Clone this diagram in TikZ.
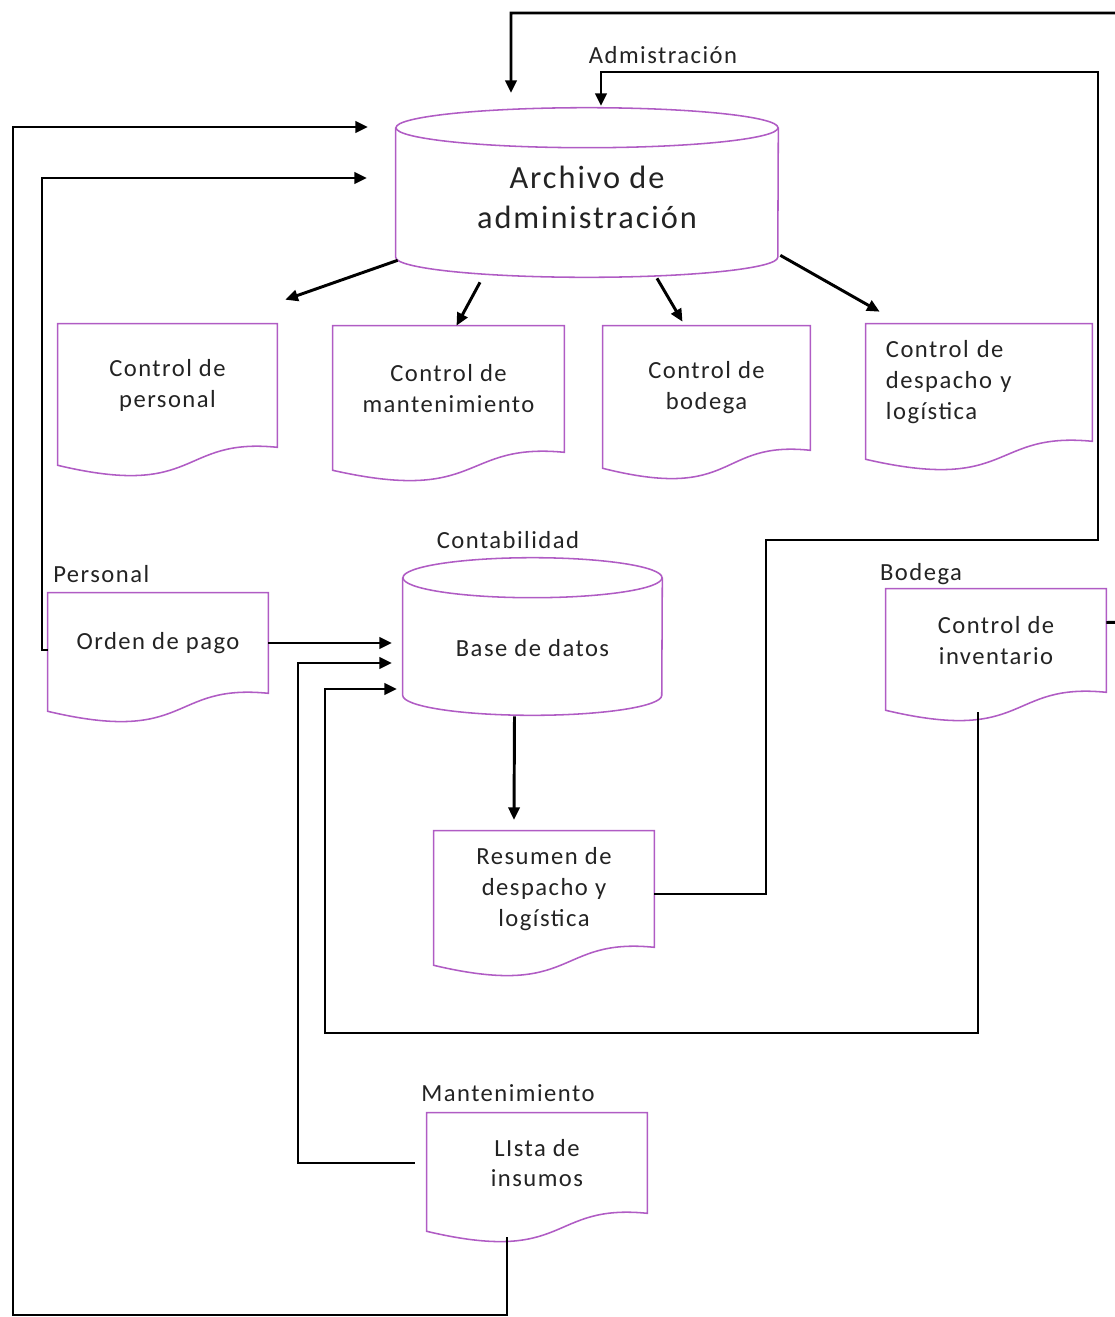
\documentclass[tikz,border=0pt]{standalone}
\usepackage{fontspec}
\setmainfont{Carlito}[LetterSpace=6]
\usepackage{xcolor}
\usetikzlibrary{arrows.meta, calc}
\definecolor{docline}{RGB}{176,92,196}
\definecolor{txtcol}{RGB}{35,35,35}
\newcommand{\txt}{\fontsize{17.5}{22}\selectfont}
\newcommand{\bigtxt}{\fontsize{23}{28.5}\selectfont}
\tikzset{
  doc/.style={rectangle, inner sep=2pt, align=center, font=\txt, text=txtcol},
  cyl/.style={rectangle, inner sep=2pt, align=center, font=\txt, text=txtcol},
  outline/.style={draw=docline, line width=1.1pt},
  arr/.style={-{Triangle[length=9pt, width=8pt]}, line width=2.1pt},
  lbl/.style={font=\txt, text=txtcol, inner sep=0pt},
}
% hoja con borde ondulado abajo
\newcommand{\docshape}[1]{%
  \draw[outline] (#1.north west) -- (#1.north east) -- (#1.south east)
    .. controls ($(#1.south west)!0.55!(#1.south east)+(0,-10)$) and ($(#1.south west)!0.65!(#1.south east)+(0,52)$) .. ($(#1.south west)+(0,18)$) -- cycle;}
% base de datos (cilindro)
\newcommand{\cylshape}[2]{%
  \draw[outline] ($(#1.north)+(0,20)$) ellipse[x radius=#2, y radius=0.5cm];
  \draw[outline] ($(#1.north west)+(0,20)$) -- ($(#1.south west)+(0,-20)$)
    arc[start angle=180, end angle=360, x radius=#2, y radius=0.5cm] -- ($(#1.north east)+(0,20)$);}

\begin{document}
\begin{tikzpicture}[x=0.025cm, y=-0.025cm]
\useasboundingbox (0,0) rectangle (1114,1317);

% ---------- Administracion ----------
\node[cyl, font=\bigtxt, minimum width=9.55cm, minimum height=4.225cm] (archivo) at (587,192.5) {\raisebox{-0.12cm}[\height][\depth]{Archivo de}\\\raisebox{-0.12cm}[\height][\depth]{administración}};
\cylshape{archivo}{4.775cm}
\node[lbl] (admin) at (663,55) {Admistración};

\node[doc, minimum width=5.475cm, minimum height=3.075cm] (ctrlpersonal) at (167.5,385.5) {Control de\\personal};
\node[doc, minimum width=5.775cm, minimum height=3.15cm] (ctrlmant) at (448.5,389) {Control de\\mantenimiento};
\node[doc, minimum width=5.175cm, minimum height=3.1cm] (ctrlbodega) at (706.5,388) {Control de\\bodega};
\node[doc, align=left, inner xsep=0.5cm, text width=4.65cm, minimum height=2.925cm] (ctrldespacho) at (979,382.5) {Control de\\despacho y\\logística};
\docshape{ctrlpersonal}
\docshape{ctrlmant}
\docshape{ctrlbodega}
\docshape{ctrldespacho}

% ---------- Contabilidad ----------
\node[cyl, minimum width=6.475cm, minimum height=3.925cm] (basedatos) at (532.5,636.5) {\raisebox{-0.28cm}[\height][\depth]{Base de datos}};
\cylshape{basedatos}{3.2375cm}
\node[lbl] (conta) at (508,540) {Contabilidad};

\node[doc, minimum width=5.5cm, minimum height=2.9cm] (resumen) at (544,889) {Resumen de\\despacho y\\logística};
\docshape{resumen}

% ---------- Personal / Bodega / Mantenimiento ----------
\node[doc, minimum width=5.5cm, minimum height=2.5cm] (ordenpago) at (158,643) {Orden de pago};
\docshape{ordenpago}
\node[lbl, anchor=west] (pers) at (53,574) {Personal};

\node[doc, minimum width=5.5cm, minimum height=2.575cm] (ctrlinv) at (996,640.5) {Control de\\inventario};
\docshape{ctrlinv}
\node[lbl] (bod) at (921,574) {Bodega};

\node[doc, minimum width=5.5cm, minimum height=2.5cm] (insumos) at (537,1163) {LIsta de\\insumos};
\docshape{insumos}
\node[lbl] (mant) at (508,1093) {Mantenimiento};

% ---------- puntos de llegada ----------
\coordinate (inA) at (511,93);
\coordinate (inB) at (601,106);
\coordinate (inC) at (368,127);
\coordinate (inD) at (367,178);
\coordinate (inE) at (392,643);
\coordinate (inF) at (392,663);
\coordinate (inG) at (397,689);
\coordinate (inH) at (514,820);

% ---------- flujos hacia el archivo ----------
\draw[arr] ($(ctrlinv.east)+(0,-18)$) -- (1130,622) -- (1130,13) -| (inA);
\draw[arr] ($(resumen.east)+(0,5)$) -- (766,894) -- (766,540) -- (1098,540) -- (1098,72) -| (inB);
\draw[arr] ($(insumos.south)+(-30,24)$) -- (507,1315) -| (13,127) -- (inC);
\draw[arr] ($(ordenpago.west)+(0,7)$) -- (42,650) |- (inD);

% ---------- flujos hacia la base de datos ----------
\draw[arr] (ordenpago.east) -- (inE);
\draw[arr] ($(insumos.west)+(-12,0)$) -| (298,663) -- (inF);
\draw[arr] ($(ctrlinv.south)+(-18,20)$) -- (978,1033) -| (325,689) -- (inG);
\draw[arr] ($(basedatos.south)+(-18,1)$) -- (inH);

% ---------- archivo a los controles ----------
\draw[arr] ($(archivo.south west)+(2,-17)$) -- ($(ctrlpersonal.north east)+(8,-24)$);
\draw[arr] ($(archivo.south)+(-107,5)$) -- ($(ctrlmant.north)+(8,0)$);
\draw[arr] ($(archivo.south)+(70,1)$) -- ($(ctrlbodega.north)+(-24,-4)$);
\draw[arr] ($(archivo.south east)+(2,-22)$) -- ($(ctrldespacho.north west)+(14,-12)$);

\end{tikzpicture}
\end{document}
